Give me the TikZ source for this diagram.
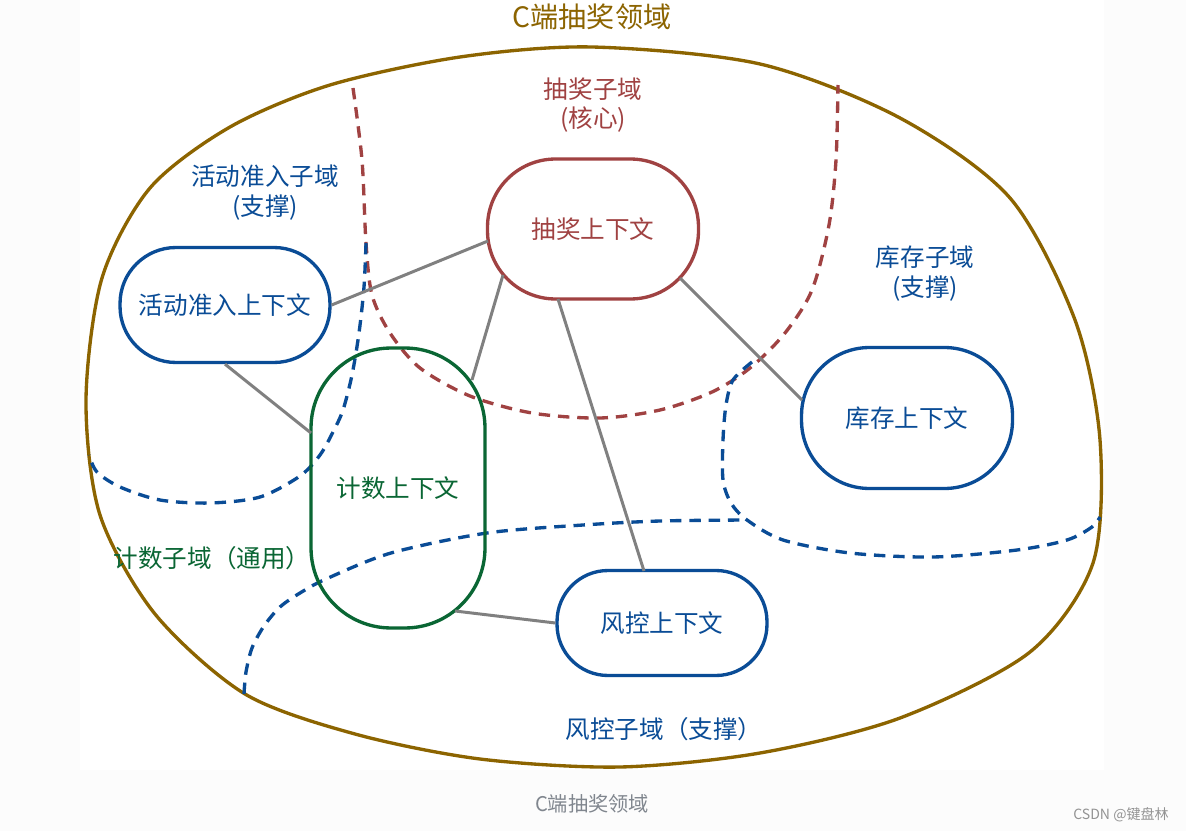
\documentclass[tikz,border=0pt]{standalone}
\usepackage{fontspec}
\setmainfont{Noto Sans CJK SC}
\usepackage{xcolor}
\usepackage{tikz}
\usetikzlibrary{positioning}
\definecolor{domainbrown}{RGB}{140,100,0}
\definecolor{corered}{RGB}{160,66,66}
\definecolor{subblue}{RGB}{10,76,150}
\definecolor{genericgreen}{RGB}{10,102,52}
\definecolor{linkgray}{RGB}{128,128,128}
\definecolor{pagegray}{RGB}{252,252,252}
\definecolor{notegray}{RGB}{128,134,142}

\begin{document}
\begin{tikzpicture}[x=0.02cm,y=-0.02cm,
  ctx/.style={draw,line width=1.9pt,inner sep=0pt,font=\fontsize{14}{17}\selectfont},
  dom/.style={align=center,inner sep=0pt,font=\fontsize{14}{17}\selectfont},
  subline/.style={line width=1.9pt,dash pattern=on 6.5pt off 4.5pt},
  link/.style={draw=linkgray,line width=1.7pt}]
\useasboundingbox (0,0) rectangle (1186,831);
\fill[pagegray] (0,0) rectangle (1186,831);
\fill[white] (80,0) rectangle (1104,770);
% whole domain
\draw[domainbrown,line width=1.9pt] plot[smooth cycle,tension=0.5] coordinates {
  (592,47) (760,64) (900,118) (1010,198) (1075,320) (1100,440) (1093,563)
  (1030,652) (900,718) (760,753) (620,767) (480,759) (355,734) (245,694)
  (155,614) (100,515) (86,400) (102,278) (150,188) (230,127) (330,85) (460,57)};
% sub-domain borders
\draw[subline,corered] plot[smooth] coordinates {
  (353,88) (362,160) (366,243) (372,295) (390,333) (420,368) (470,396)
  (532,413) (600,418) (660,410) (712,392) (750,368) (785,333) (812,290)
  (829,225) (836,160) (838,85)};
\draw[subline,subblue] plot[smooth] coordinates {
  (366,243) (364,287) (359,333) (352,375) (343,410) (333,432) (320,455)
  (300,476) (260,497) (210,503) (160,500) (120,487) (97,472) (89,455)};
\draw[subline,subblue] plot[smooth] coordinates {
  (752,362) (733,380) (726,405) (723,440) (723,480) (731,503) (747,520)
  (783,540) (850,553) (933,557) (1017,550) (1067,540) (1092,527) (1100,517)};
\draw[subline,subblue] plot[smooth] coordinates {
  (244,694) (246,672) (252,648) (264,626) (280,607) (300,593) (326,579)
  (391,553) (487,533) (583,525) (660,521) (747,520)};
% contexts
\node[ctx,draw=corered,text=corered,minimum width=4.22cm,minimum height=2.8cm,
  rounded corners=1.36cm] (lottery) at (593,229) {抽奖上下文};
\node[ctx,draw=subblue,text=subblue,minimum width=4.2cm,minimum height=2.3cm,
  rounded corners=1.12cm] (activity) at (225,305) {活动准入上下文};
\node[ctx,draw=subblue,text=subblue,minimum width=4.22cm,minimum height=2.82cm,
  rounded corners=1.36cm] (stock) at (907,418) {库存上下文};
\node[ctx,draw=subblue,text=subblue,minimum width=4.2cm,minimum height=2.1cm,
  rounded corners=1.02cm] (risk) at (662,623) {风控上下文};
\node[ctx,draw=genericgreen,text=genericgreen,minimum width=3.48cm,minimum height=5.6cm,
  rounded corners=1.6cm] (count) at (398,488) {计数上下文};
% relations
\draw[link] (activity.east) -- ([shift={(-105,12)}]lottery.center);
\draw[link] (activity.south) -- ([shift={(-87,-55)}]count.center);
\draw[link] ([shift={(-90,46)}]lottery.center) -- ([shift={(74,-108)}]count.center);
\draw[link] ([shift={(-35,70)}]lottery.center) -- ([shift={(-18,-52)}]risk.center);
\draw[link] ([shift={(87,49)}]lottery.center) -- ([shift={(-105,-18)}]stock.center);
\draw[link] ([shift={(57,123)}]count.center) -- (risk.west);
% sub-domain names
\node[dom,text=corered] (coredom) at (593,105) {抽奖子域\\(核心)};
\node[dom,text=subblue] (activitydom) at (265,193) {活动准入子域\\(支撑)};
\node[dom,text=subblue] (stockdom) at (925,274) {库存子域\\(支撑)};
\node[dom,text=genericgreen] (countdom) at (212,558) {计数子域（通用）};
\node[dom,text=subblue] (riskdom) at (664,729) {风控子域（支撑）};
\node[inner sep=0pt,text=domainbrown,font=\fontsize{16}{19}\selectfont] (title) at (592,17) {C端抽奖领域};
\node[inner sep=0pt,text=notegray,font=\fontsize{11.5}{14}\selectfont] (caption) at (592,804) {C端抽奖领域};
\node[inner sep=0pt,text=gray!85,font=\fontsize{8}{10}\selectfont] (mark) at (1121,815) {CSDN @键盘林};
\end{tikzpicture}
\end{document}
